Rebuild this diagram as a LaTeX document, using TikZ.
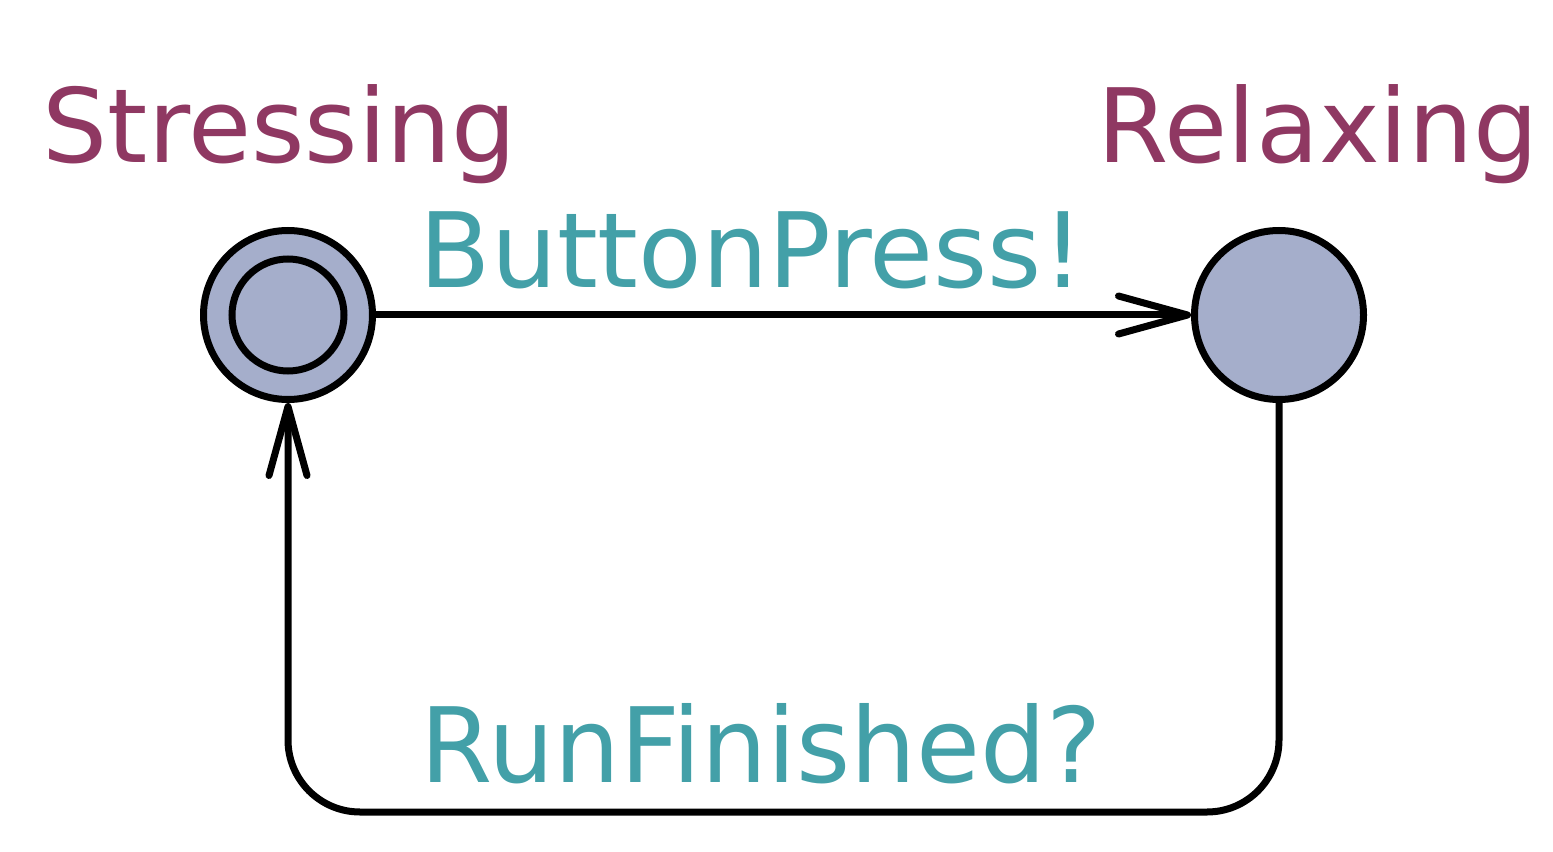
\documentclass[tikz,border=0pt]{standalone}
\usepackage{fontspec}
\setmainfont{DejaVu Sans}
\usetikzlibrary{arrows.meta, positioning}
\definecolor{locfill}{RGB}{165,174,203}
\definecolor{locname}{RGB}{143,56,98}
\definecolor{syncname}{RGB}{67,160,168}
\tikzset{
  location/.style={circle, draw=black, fill=locfill, line width=0.07cm, minimum size=1.69cm, inner sep=0pt},
  inner/.style={circle, draw=black, line width=0.07cm, minimum size=1.12cm, inner sep=0pt},
  locname/.style={text=locname, anchor=base west, inner sep=0pt, font=\fontsize{29.2}{35}\selectfont},
  sync/.style={text=syncname, anchor=base west, inner sep=0pt, font=\fontsize{29.6}{35}\selectfont},
  edge/.style={draw=black, line width=0.07cm, line cap=round, line join=round, -{Straight Barb[length=0.69cm, width=0.38cm, round]}}
}

\begin{document}
\begin{tikzpicture}
\useasboundingbox (0,0) rectangle (15.53,8.51);

\node[location](stressing) at (2.88,5.36){};
\node[inner](stressinginit) at (stressing.center){};
\node[location](relaxing) at (12.79,5.36){};

\node[locname](stressingname) at (0.42,6.88){Stressing};
\node[locname](relaxingname) at (10.97,6.88){Relaxing};

\draw[edge] (stressing) -- (relaxing);
\node[sync](press) at (4.19,5.63){ButtonPress!};

\coordinate (loop) at (7.8,0.39);
\draw[edge, rounded corners=0.72cm] (relaxing.south) |- (loop) -| (stressing.south);
\node[sync](finished) at (4.20,0.69){RunFinished?};
\end{tikzpicture}
\end{document}
